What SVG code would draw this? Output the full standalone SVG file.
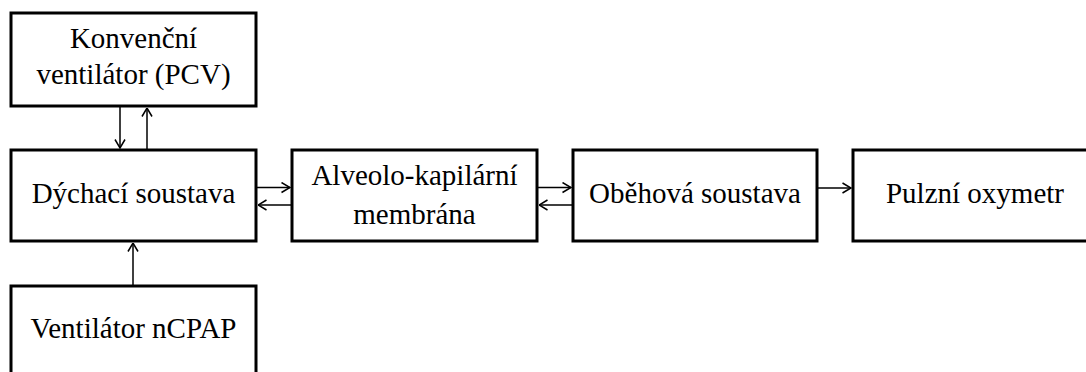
<svg xmlns="http://www.w3.org/2000/svg" width="1086" height="372" viewBox="0 0 1086 372">
<style>
.box{fill:#fff;stroke:#000;stroke-width:3}
.t{font-family:"Liberation Serif","Times New Roman",serif;font-size:29px;fill:#000;text-anchor:middle}
.c{stroke:#000;stroke-width:1.5;fill:none}
</style>
<defs>
<marker id="ah" viewBox="0 0 10 12" refX="9.5" refY="6" markerWidth="10" markerHeight="12" markerUnits="userSpaceOnUse" orient="auto">
<path d="M1,1 L9.5,6 L1,11" fill="none" stroke="#000" stroke-width="1.5"/>
</marker>
</defs>
<rect width="1086" height="372" fill="#fff"/>
<g id="n1"><rect class="box" x="11" y="13" width="245" height="93"/><text class="t" x="133.5" y="48">Konvenční</text><text class="t" x="133.5" y="84">ventilátor (PCV)</text></g>
<g id="n2"><rect class="box" x="11" y="150" width="245" height="91"/><text class="t" x="133.5" y="203">Dýchací soustava</text></g>
<g id="n3"><rect class="box" x="11" y="286" width="245" height="100"/><text class="t" x="133.5" y="338">Ventilátor nCPAP</text></g>
<g id="n4"><rect class="box" x="292" y="150" width="245" height="91"/><text class="t" x="414.5" y="185">Alveolo-kapilární</text><text class="t" x="414.5" y="224">membrána</text></g>
<g id="n5"><rect class="box" x="573" y="150" width="244" height="91"/><text class="t" x="695" y="203">Oběhová soustava</text></g>
<g id="n6"><rect class="box" x="853" y="150" width="245" height="91"/><text class="t" x="975" y="203">Pulzní oxymetr</text></g>
<g id="connectors">
<line class="c" x1="120" y1="107" x2="120" y2="148" marker-end="url(#ah)"/>
<line class="c" x1="147" y1="149" x2="147" y2="108" marker-end="url(#ah)"/>
<line class="c" x1="133" y1="285" x2="133" y2="243" marker-end="url(#ah)"/>
<line class="c" x1="257" y1="187.5" x2="290" y2="187.5" marker-end="url(#ah)"/>
<line class="c" x1="291" y1="205" x2="258" y2="205" marker-end="url(#ah)"/>
<line class="c" x1="538" y1="187.5" x2="571" y2="187.5" marker-end="url(#ah)"/>
<line class="c" x1="572" y1="205" x2="539" y2="205" marker-end="url(#ah)"/>
<line class="c" x1="818" y1="188" x2="851" y2="188" marker-end="url(#ah)"/>
</g>
</svg>
